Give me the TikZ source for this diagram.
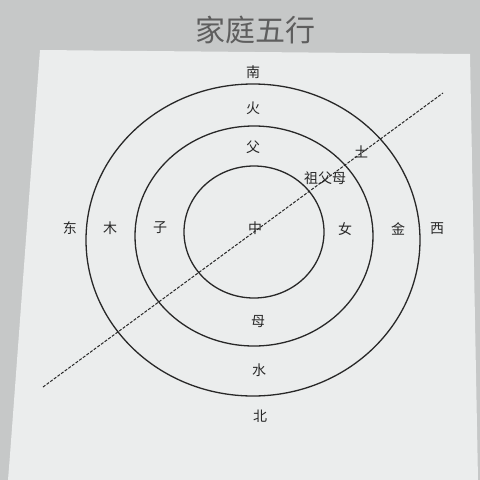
\documentclass[tikz,border=0pt]{standalone}
\usepackage{fontspec}
\usepackage{tikz}
\newfontfamily\cjk{Noto Sans CJK SC}
\definecolor{wall}{RGB}{198,200,200}
\definecolor{paper}{RGB}{235,237,237}
\definecolor{ink}{RGB}{40,40,40}
\tikzset{
    word/.style={font=\cjk\fontsize{14}{14}\selectfont, text=ink, inner sep=0pt},
    ring/.style={ink, line width=1.3pt}
}
\begin{document}
\begin{tikzpicture}[x=1pt, y=-1pt]
    \useasboundingbox (0,0) rectangle (480,480);
    \fill[wall] (0,0) rectangle (480,480);
    \fill[paper] (40,50) -- (470,54) -- (478,480) -- (8,480) -- (10,455) -- cycle;
    \node[font=\cjk\fontsize{30}{30}\selectfont, text=ink!75] (title) at (255,30) {家庭五行};
    \draw[ring] (253,240) ellipse [x radius=167pt, y radius=156pt];
    \draw[ring] (254,236) ellipse [x radius=119pt, y radius=110pt];
    \draw[ring] (254,232) ellipse [x radius=70pt, y radius=66pt];
    \coordinate (lo) at (43,387);
    \coordinate (hi) at (443,93);
    \draw[ink, line width=1pt, dash pattern=on 3pt off 1.5pt] (lo) -- (hi);
    \foreach \name/\x/\y/\t in {south/253/72/南, fire/253/108/火, father/253/147/父,
        earth/361/152/土, grand/325/178/祖父母, east/70/228/东, wood/110/228/木,
        son/160/228/子, mid/255/228/中, girl/345/229/女, metal/398/229/金,
        west/437/229/西, mother/258/322/母, water/259/370/水, north/260/416/北}{
        \node[word] (\name) at (\x,\y) {\t};
    }
\end{tikzpicture}
\end{document}
